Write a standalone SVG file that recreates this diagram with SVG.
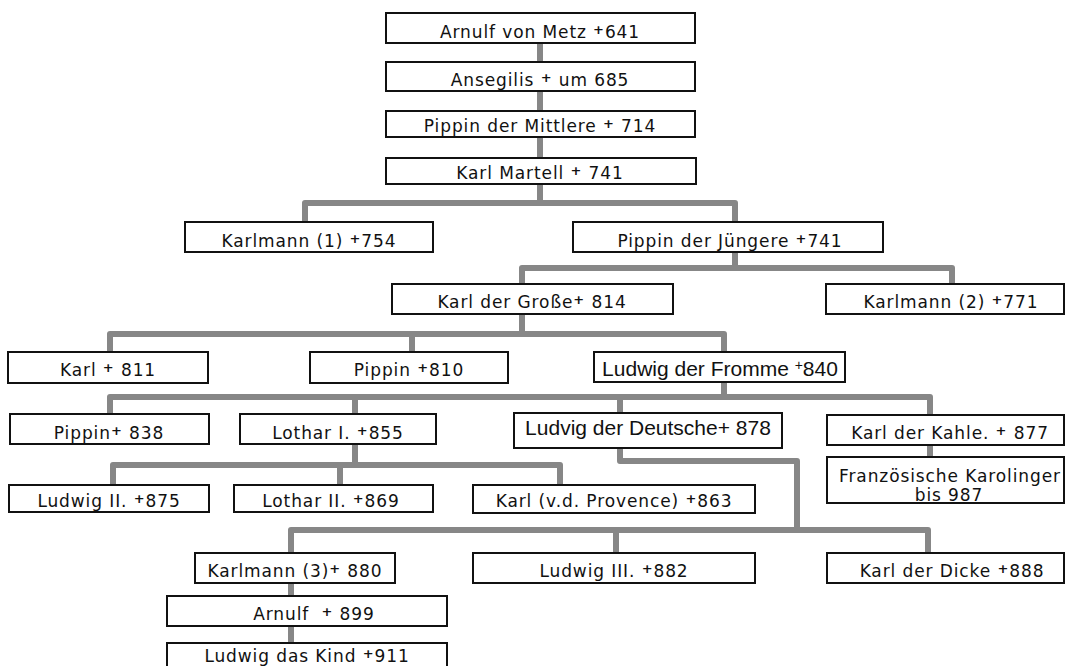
<svg xmlns="http://www.w3.org/2000/svg" width="1066" height="666" viewBox="0 0 1066 666">
  <style>
    .conn { fill: none; stroke: #878787; stroke-width: 6; stroke-linejoin: round; }
    .box { fill: #ffffff; stroke: #111111; stroke-width: 2; }
    .lbl { font-family: "DejaVu Sans", "Liberation Sans", sans-serif; font-size: 17px; letter-spacing: 0.9px; fill: #111111; text-anchor: middle; }
    .big { font-family: "Liberation Sans", Arial, sans-serif; font-size: 21px; letter-spacing: 0; fill: #111111; text-anchor: middle; }
    .sup { font-size: 13px; font-weight: bold; }
  </style>
  <rect width="1066" height="666" fill="#ffffff"/>

  <!-- family lines -->
  <g id="connectors">
    <path class="conn" d="M540,43 V184"/>
    <path class="conn" d="M540,184 V203"/>
    <path class="conn" d="M305,222 V203 H735 V222"/>
    <path class="conn" d="M735,252 V268"/>
    <path class="conn" d="M522,284 V268 H952 V284"/>
    <path class="conn" d="M522,314 V334"/>
    <path class="conn" d="M110,352 V334 H724 V352"/>
    <path class="conn" d="M412,334 V352"/>
    <path class="conn" d="M724,382 V397"/>
    <path class="conn" d="M110,414 V397 H930 V415"/>
    <path class="conn" d="M355,397 V414"/>
    <path class="conn" d="M620,397 V413"/>
    <path class="conn" d="M930,445 V457"/>
    <path class="conn" d="M355,444 V465"/>
    <path class="conn" d="M113,485 V465 H560 V485"/>
    <path class="conn" d="M340,465 V485"/>
    <path class="conn" d="M620,448 V461 H797 V530"/>
    <path class="conn" d="M291,553 V530 H928 V553"/>
    <path class="conn" d="M616,530 V553"/>
    <path class="conn" d="M291,583 V643"/>
  </g>

  <g id="arnulf-von-metz">
    <rect class="box" x="386" y="13" width="309" height="30"/>
    <text class="lbl" x="540" y="38">Arnulf von Metz <tspan class="sup" dy="-4">+</tspan><tspan dy="4">641</tspan></text>
  </g>
  <g id="ansegilis">
    <rect class="box" x="386" y="62" width="309" height="29"/>
    <text class="lbl" x="540" y="86">Ansegilis <tspan class="sup" dy="-4">+</tspan><tspan dy="4"> um 685</tspan></text>
  </g>
  <g id="pippin-der-mittlere">
    <rect class="box" x="386" y="111" width="309" height="26"/>
    <text class="lbl" x="540" y="132">Pippin der Mittlere <tspan class="sup" dy="-4">+</tspan><tspan dy="4"> 714</tspan></text>
  </g>
  <g id="karl-martell">
    <rect class="box" x="386" y="158" width="310" height="26"/>
    <text class="lbl" x="540" y="179">Karl Martell <tspan class="sup" dy="-4">+</tspan><tspan dy="4"> 741</tspan></text>
  </g>

  <g id="karlmann-1">
    <rect class="box" x="185" y="222" width="248" height="30"/>
    <text class="lbl" x="309" y="247">Karlmann (1) <tspan class="sup" dy="-4">+</tspan><tspan dy="4">754</tspan></text>
  </g>
  <g id="pippin-der-juengere">
    <rect class="box" x="573" y="222" width="310" height="30"/>
    <text class="lbl" x="730" y="247">Pippin der Jüngere <tspan class="sup" dy="-4">+</tspan><tspan dy="4">741</tspan></text>
  </g>

  <g id="karl-der-grosse">
    <rect class="box" x="392" y="284" width="281" height="30"/>
    <text class="lbl" x="532" y="308">Karl der Große<tspan class="sup" dy="-4">+</tspan><tspan dy="4"> 814</tspan></text>
  </g>
  <g id="karlmann-2">
    <rect class="box" x="826" y="284" width="238" height="30"/>
    <text class="lbl" x="951" y="308">Karlmann (2) <tspan class="sup" dy="-4">+</tspan><tspan dy="4">771</tspan></text>
  </g>

  <g id="karl-811">
    <rect class="box" x="8" y="352" width="200" height="31"/>
    <text class="lbl" x="108" y="376">Karl <tspan class="sup" dy="-4">+</tspan><tspan dy="4"> 811</tspan></text>
  </g>
  <g id="pippin-810">
    <rect class="box" x="310" y="352" width="198" height="31"/>
    <text class="lbl" x="409" y="376">Pippin <tspan class="sup" dy="-4">+</tspan><tspan dy="4">810</tspan></text>
  </g>
  <g id="ludwig-der-fromme">
    <rect class="box" x="594" y="352" width="251" height="30"/>
    <text class="big" x="720" y="376">Ludwig der Fromme <tspan font-size="14" dy="-6">+</tspan><tspan dy="6">840</tspan></text>
  </g>

  <g id="pippin-838">
    <rect class="box" x="10" y="414" width="199" height="30"/>
    <text class="lbl" x="109" y="439">Pippin<tspan class="sup" dy="-4">+</tspan><tspan dy="4"> 838</tspan></text>
  </g>
  <g id="lothar-1">
    <rect class="box" x="240" y="414" width="196" height="30"/>
    <text class="lbl" x="338" y="439">Lothar I. <tspan class="sup" dy="-4">+</tspan><tspan dy="4">855</tspan></text>
  </g>
  <g id="ludvig-der-deutsche">
    <rect class="box" x="514" y="413" width="268" height="35"/>
    <text class="big" x="648" y="435">Ludvig der Deutsche+ 878</text>
  </g>
  <g id="karl-der-kahle">
    <rect class="box" x="827" y="415" width="237" height="30"/>
    <text class="lbl" x="950" y="439">Karl der Kahle. <tspan class="sup" dy="-4">+</tspan><tspan dy="4"> 877</tspan></text>
  </g>
  <g id="franzoesische-karolinger">
    <rect class="box" x="827" y="457" width="237" height="46"/>
    <text class="lbl" x="950" y="482">Französische Karolinger</text>
    <text class="lbl" x="949" y="501">bis 987</text>
  </g>

  <g id="ludwig-2">
    <rect class="box" x="9" y="485" width="200" height="27"/>
    <text class="lbl" x="109" y="507">Ludwig II. <tspan class="sup" dy="-4">+</tspan><tspan dy="4">875</tspan></text>
  </g>
  <g id="lothar-2">
    <rect class="box" x="234" y="485" width="199" height="27"/>
    <text class="lbl" x="331" y="507">Lothar II. <tspan class="sup" dy="-4">+</tspan><tspan dy="4">869</tspan></text>
  </g>
  <g id="karl-provence">
    <rect class="box" x="473" y="485" width="282" height="28"/>
    <text class="lbl" x="614" y="507">Karl (v.d. Provence) <tspan class="sup" dy="-4">+</tspan><tspan dy="4">863</tspan></text>
  </g>

  <g id="karlmann-3">
    <rect class="box" x="195" y="553" width="200" height="30"/>
    <text class="lbl" x="295" y="577">Karlmann (3)<tspan class="sup" dy="-4">+</tspan><tspan dy="4"> 880</tspan></text>
  </g>
  <g id="ludwig-3">
    <rect class="box" x="473" y="553" width="282" height="30"/>
    <text class="lbl" x="614" y="577">Ludwig III. <tspan class="sup" dy="-4">+</tspan><tspan dy="4">882</tspan></text>
  </g>
  <g id="karl-der-dicke">
    <rect class="box" x="827" y="553" width="237" height="30"/>
    <text class="lbl" x="952" y="577">Karl der Dicke <tspan class="sup" dy="-4">+</tspan><tspan dy="4">888</tspan></text>
  </g>

  <g id="arnulf-899">
    <rect class="box" x="167" y="596" width="280" height="30"/>
    <text class="lbl" x="314" y="620">Arnulf  <tspan class="sup" dx="6" dy="-4">+</tspan><tspan dy="4"> 899</tspan></text>
  </g>
  <g id="ludwig-das-kind">
    <rect class="box" x="167" y="643" width="280" height="34"/>
    <text class="lbl" x="307" y="662">Ludwig das Kind <tspan class="sup" dy="-4">+</tspan><tspan dy="4">911</tspan></text>
  </g>
</svg>
